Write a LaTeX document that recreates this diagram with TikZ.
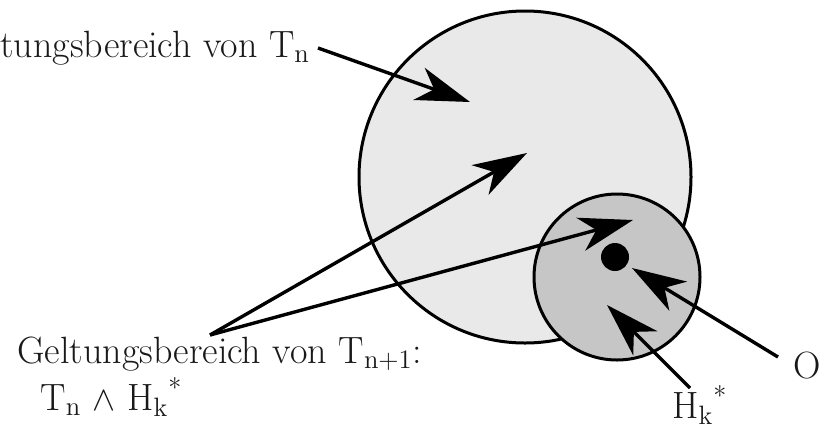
\documentclass[tikz,border=0pt]{standalone}
\usetikzlibrary{arrows.meta}
\begin{document}
\begin{tikzpicture}[x=0.5pt,y=-0.5pt,
  lbl/.style={font=\fontsize{19pt}{21pt}\selectfont, inner sep=0, anchor=base west, text=black!90},
  arr/.style={line width=1.7pt, -{Stealth[length=27pt,width=17pt,inset=8pt]}},
  ring/.style={circle, draw, line width=1.5pt, inner sep=0}
  ]
\useasboundingbox (0,0) rectangle (829,435);
\node[ring, fill=gray!17, minimum size=166pt] (big) at (525,177) {};
\node[ring, fill=gray!45, minimum size=83pt] (small) at (617,277) {};
\node[circle, fill=black, minimum size=14pt, inner sep=0] (dot) at (615,257) {};
% labels
\node[lbl] (tn) at (0,57) {tungsbereich von T\textsubscript{n}};
\node[lbl] (tn1) at (17,363) {Geltungsbereich von T\textsubscript{n+1}:};
\node[lbl] (conj) at (40,410) {T\textsubscript{n} $\wedge$ H\textsubscript{k}\textsuperscript{*}};
\node[lbl] (o) at (793,378) {O};
\node[lbl] (hk) at (672,418) {H\textsubscript{k}\textsuperscript{*}};
% connector ends
\coordinate (a1s) at (318,48);
\coordinate (a1e) at (470,102);
\coordinate (g) at (210,335);
\coordinate (a2e) at (527,153);
\coordinate (a3e) at (633,220);
\coordinate (os) at (778,357);
\coordinate (oe) at (632,268);
\coordinate (hs) at (690,388);
\coordinate (he) at (607,305);
\draw[arr] (a1s) -- (a1e);
\draw[arr] (g) -- (a2e);
\draw[arr] (g) -- (a3e);
\draw[arr] (os) -- (oe);
\draw[arr] (hs) -- (he);
\end{tikzpicture}
\end{document}
